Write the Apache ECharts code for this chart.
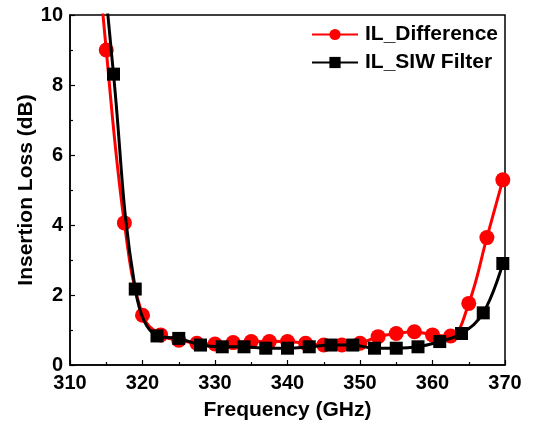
<!DOCTYPE html>
<html>
<head>
<meta charset="utf-8">
<script src="https://cdn.jsdelivr.net/npm/echarts@6/dist/echarts.min.js"></script>
<style>
  html, body { margin: 0; padding: 0; background: #fff; }
  #chart { width: 533px; height: 428px; }
</style>
</head>
<body>
<div id="chart"></div>
<script>
// red curve (first point sits above the axis top and is clipped)
const diffFreq = [312.5, 315, 317.5, 320, 322.5, 325, 327.5, 330, 332.5, 335, 337.5, 340, 342.5,
  345, 347.5, 350, 352.5, 355, 357.5, 360, 362.5, 365, 367.5, 369.7];
const diffLoss = [15, 9.0, 4.06, 1.42, 0.86, 0.71, 0.62, 0.6, 0.64, 0.67, 0.67, 0.67, 0.62,
  0.57, 0.57, 0.62, 0.81, 0.9, 0.95, 0.86, 0.83, 1.76, 3.64, 5.29];

// black curve
const siwFreq = [313, 316, 319, 322, 325, 328, 331, 334, 337, 340, 343, 346, 349, 352, 355,
  358, 361, 364, 367, 369.7];
const siwLoss = [15, 8.31, 2.17, 0.83, 0.76, 0.57, 0.52, 0.52, 0.48, 0.48, 0.52, 0.57, 0.57,
  0.48, 0.48, 0.52, 0.67, 0.9, 1.49, 2.9];

const seriesNames = ["IL_Difference", "IL_SIW Filter"];

const pairs = (xs, ys) => xs.map((x, i) => [x, ys[i]]);
const font = "'Liberation Sans', Arial, sans-serif";

const chart = echarts.init(document.getElementById("chart"));
chart.setOption({
  animation: false,
  backgroundColor: "#fff",
  textStyle: { fontFamily: font },
  grid: {
    left: 70,
    right: 28,
    top: 15,
    bottom: 63,
    show: true,
    borderColor: "#000",
    borderWidth: 1.5,
  },
  legend: {
    orient: "vertical",
    left: 306,
    top: 19,
    itemWidth: 46,
    itemHeight: 14,
    itemGap: 7,
    data: seriesNames,
    textStyle: {
      fontFamily: font,
      fontSize: 21,
      fontWeight: "bold",
      color: "#000",
      padding: [0, 0, 0, 2],
    },
  },
  xAxis: {
    type: "value",
    min: 310,
    max: 370,
    interval: 10,
    name: "Frequency (GHz)",
    nameLocation: "middle",
    nameGap: 35,
    nameTextStyle: { fontFamily: font, fontSize: 21, fontWeight: "bold", color: "#000" },
    axisLine: { lineStyle: { color: "#000", width: 1.5 } },
    axisTick: { inside: true, length: 5, lineStyle: { color: "#000", width: 1.2 } },
    minorTick: { show: true, splitNumber: 2, length: 3, lineStyle: { color: "#000", width: 1.2 } },
    axisLabel: { fontFamily: font, fontSize: 20, fontWeight: "bold", color: "#000", margin: 8 },
    splitLine: { show: false },
  },
  yAxis: {
    type: "value",
    min: 0,
    max: 10,
    interval: 2,
    name: "Insertion Loss (dB)",
    nameLocation: "middle",
    nameGap: 33,
    nameMoveOverlap: false,
    nameTextStyle: { fontFamily: font, fontSize: 21, fontWeight: "bold", color: "#000" },
    axisLine: { show: true, lineStyle: { color: "#000", width: 1.5 } },
    axisTick: { inside: true, length: 5, lineStyle: { color: "#000", width: 1.2 } },
    minorTick: { show: true, splitNumber: 2, length: 3, lineStyle: { color: "#000", width: 1.2 } },
    axisLabel: { fontFamily: font, fontSize: 20, fontWeight: "bold", color: "#000", margin: 7 },
    splitLine: { show: false },
  },
  series: [
    {
      name: seriesNames[0],
      type: "line",
      smooth: 0.4,
      data: pairs(diffFreq, diffLoss),
      symbol: "circle",
      symbolSize: 15,
      lineStyle: { color: "#ff0000", width: 3 },
      itemStyle: { color: "#ff0000" },
      z: 2,
    },
    {
      name: seriesNames[1],
      type: "line",
      smooth: 0.4,
      data: pairs(siwFreq, siwLoss),
      symbol: "rect",
      symbolSize: 13,
      lineStyle: { color: "#000", width: 3 },
      itemStyle: { color: "#000" },
      z: 3,
    },
  ],
});
</script>
</body>
</html>
